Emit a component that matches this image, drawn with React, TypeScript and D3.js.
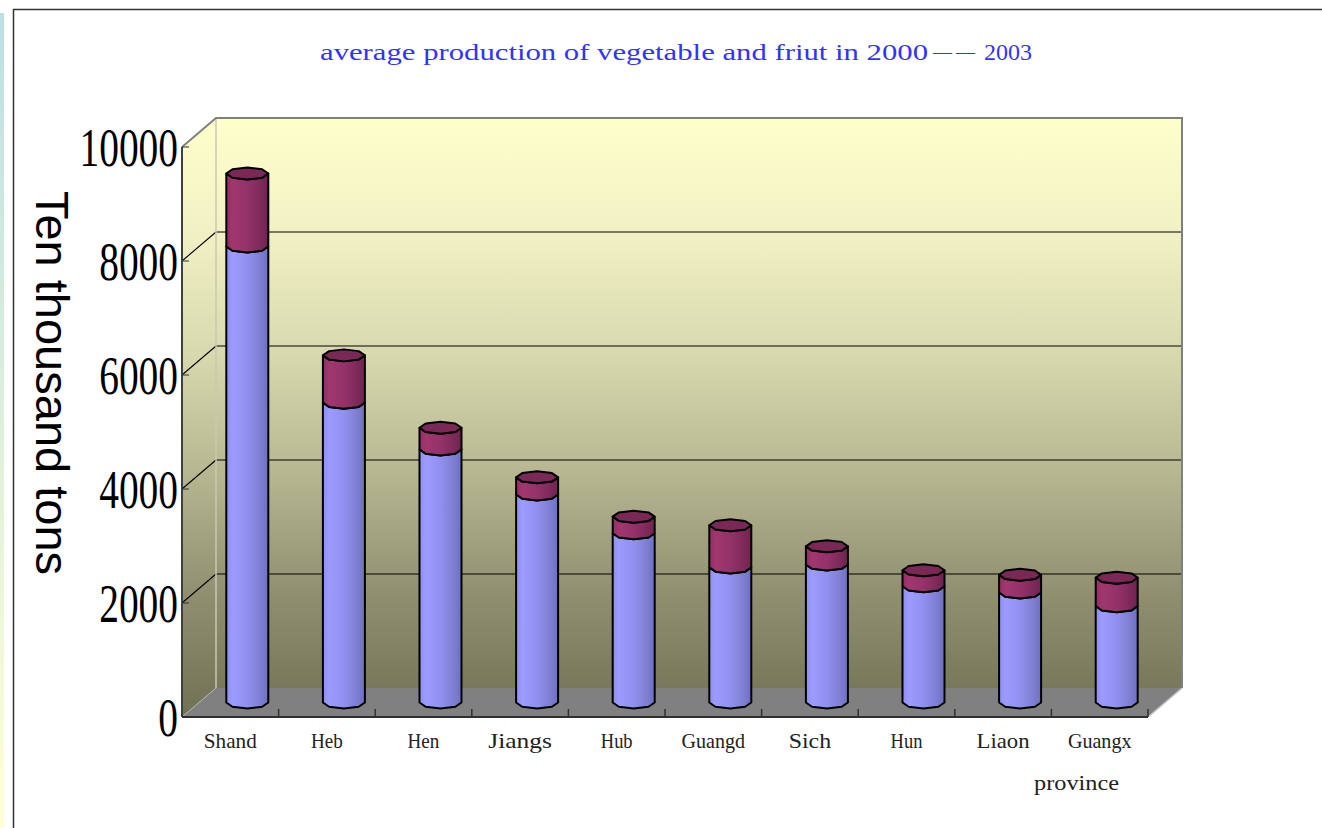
import React from "react";
import * as d3 from "d3";

// values in ten thousand tons
const provinces = ["Shand", "Heb", "Hen", "Jiangs", "Hub", "Guangd", "Sich", "Hun", "Liaon", "Guangx"];
const vegetable = [8000, 5260, 4440, 3650, 2970, 2370, 2420, 2040, 1930, 1690];
const fruit = [1280, 830, 380, 300, 290, 740, 320, 280, 310, 500];
const yTicks = [0, 2000, 4000, 6000, 8000, 10000];

const titleStart = "average production of vegetable and friut in 2000";
const titleDash = "——";
const titleEnd = "2003";

const W = 1322;
const H = 828;
const depthX = 34;
const depthY = -29;
const rx = 21;
const ry = 6;

const frontArc = [180, 135, 90, 45, 0];
const fullRing = [0, 45, 90, 135, 180, 225, 270, 315];

function ring(cx: number, cy: number, angles: number[]) {
  return angles.map((a) => {
    const r = (a * Math.PI) / 180;
    return [cx + rx * Math.cos(r), cy + ry * Math.sin(r)];
  });
}

export default function App() {
  const x = d3.scaleBand().domain(provinces).range([182, 1148]);
  const y = d3.scaleLinear().domain([0, 10000]).range([717, 147]);

  const rows = provinces.map((p, i) => ({ province: p, vegetable: vegetable[i], fruit: fruit[i] }));
  const stacked = d3.stack<any>().keys(["vegetable", "fruit"])(rows);

  const x0 = x.range()[0];
  const x1 = x.range()[1];
  const yBottom = y(0);
  const yTop = y(10000);

  const line = d3.line();

  const segment = (cx: number, yb: number, yt: number) => {
    const bottom = ring(cx, yb, frontArc);
    const top = ring(cx, yt, frontArc).reverse();
    return line([...bottom, ...top] as [number, number][]) + "Z";
  };

  return (
    <svg width={W} height={H} style={{ position: "absolute", left: 0, top: 0 }}>
      <defs>
        <linearGradient id="wall" gradientUnits="userSpaceOnUse" x1="0" y1={yTop + depthY} x2="0" y2={yBottom}>
          <stop offset="0" stopColor="#FFFFCC" />
          <stop offset="0.2" stopColor="#F0F0C4" />
          <stop offset="0.4" stopColor="#D8D8AE" />
          <stop offset="0.6" stopColor="#B5B590" />
          <stop offset="0.8" stopColor="#8F8F70" />
          <stop offset="1" stopColor="#707054" />
        </linearGradient>
        <linearGradient id="strip" x1="0" y1="0" x2="0" y2="1">
          <stop offset="0" stopColor="#BCE0E4" />
          <stop offset="1" stopColor="#FFFFD4" />
        </linearGradient>
        <linearGradient id="blueSide" x1="0" y1="0" x2="1" y2="0">
          <stop offset="0" stopColor="#8E8EF0" />
          <stop offset="0.15" stopColor="#9C9CFF" />
          <stop offset="0.5" stopColor="#9090F0" />
          <stop offset="0.72" stopColor="#8484DA" />
          <stop offset="1" stopColor="#7070C2" />
        </linearGradient>
        <linearGradient id="purpleSide" x1="0" y1="0" x2="1" y2="0">
          <stop offset="0" stopColor="#922C62" />
          <stop offset="0.15" stopColor="#A0386E" />
          <stop offset="0.5" stopColor="#94326A" />
          <stop offset="0.72" stopColor="#852C5E" />
          <stop offset="1" stopColor="#6E2450" />
        </linearGradient>
      </defs>

      {/* page frame */}
      <rect x={0} y={13} width={4} height={H - 13} fill="url(#strip)" />
      <path d={`M13.5,${H} L13.5,9.5 L${W},9.5`} fill="none" stroke="#333" strokeWidth={1.5} />

      <g fontFamily="Liberation Serif" fontSize={24} fill="#3333FF">
        <text x={320} y={60} textLength={608} lengthAdjust="spacingAndGlyphs">{titleStart}</text>
        <text x={933} y={58} fontSize={19} letterSpacing={4}>{titleDash}</text>
        <text x={984} y={60} textLength={48} lengthAdjust="spacingAndGlyphs">{titleEnd}</text>
      </g>

      {/* walls and floor */}
      <rect x={x0 + depthX} y={yTop + depthY} width={x1 - x0} height={yBottom - yTop} fill="url(#wall)" />
      <path
        d={`M${x0},${yTop} L${x0 + depthX},${yTop + depthY} L${x0 + depthX},${yBottom + depthY} L${x0},${yBottom} Z`}
        fill="url(#wall)"
      />
      <path
        d={`M${x0},${yBottom} L${x0 + depthX},${yBottom + depthY} L${x1 + depthX},${yBottom + depthY} L${x1},${yBottom} Z`}
        fill="#808080"
      />

      {yTicks.slice(1, -1).map((t) => (
        <g key={t} stroke="#000" strokeWidth={1.1}>
          <line x1={x0 + depthX} x2={x1 + depthX} y1={y(t) + depthY} y2={y(t) + depthY} />
          <line x1={x0} x2={x0 + depthX} y1={y(t)} y2={y(t) + depthY} />
        </g>
      ))}

      <line x1={x0 + depthX} x2={x0 + depthX} y1={yTop + depthY} y2={yBottom + depthY} stroke="#C8C8B4" strokeWidth={1.5} />
      <path
        d={`M${x0},${yTop} L${x0 + depthX},${yTop + depthY} L${x1 + depthX},${yTop + depthY} L${x1 + depthX},${yBottom + depthY}`}
        fill="none"
        stroke="#808080"
        strokeWidth={2}
      />
      <line x1={x0} y1={yBottom} x2={x0 + depthX} y2={yBottom + depthY} stroke="#B0B0B0" strokeWidth={1} />
      <line x1={x1} y1={yBottom} x2={x1 + depthX} y2={yBottom + depthY} stroke="#C0C0C0" strokeWidth={1.5} />

      {/* axes */}
      <line x1={x0} x2={x0} y1={yTop} y2={yBottom} stroke="#404040" strokeWidth={2} />
      <line x1={x0} x2={x1} y1={yBottom} y2={yBottom} stroke="#303030" strokeWidth={2} />
      {yTicks.map((t) => (
        <g key={t}>
          <line x1={x0} x2={x0 + 7} y1={y(t)} y2={y(t)} stroke="#303030" strokeWidth={1} />
          <text
            transform={`translate(178,${y(t)}) scale(0.73,1)`}
            dy="0.35em"
            textAnchor="end"
            fontFamily="Liberation Serif"
            fontSize={54}
            fill="#000"
          >
            {t}
          </text>
        </g>
      ))}
      {provinces.map((p) => (
        <line
          key={p}
          x1={(x(p) as number) + x.bandwidth()}
          x2={(x(p) as number) + x.bandwidth()}
          y1={yBottom}
          y2={yBottom - 8}
          stroke="#303030"
          strokeWidth={1.5}
        />
      ))}

      {/* bars */}
      {stacked.map((s) => (
        <g key={s.key}>
          {s.map((d, i) => {
            const cx = (x(provinces[i]) as number) + x.bandwidth() / 2 + depthX / 2;
            const yb = y(d[0]) + depthY / 2;
            const yt = y(d[1]) + depthY / 2;
            const isTop = s.key === "fruit";
            return (
              <g key={i} stroke="#000" strokeWidth={2} strokeLinejoin="round">
                <path d={segment(cx, yb, yt)} fill={isTop ? "url(#purpleSide)" : "url(#blueSide)"} />
                {isTop && <path d={line(ring(cx, yt, fullRing) as [number, number][]) + "Z"} fill="#7A2856" />}
              </g>
            );
          })}
        </g>
      ))}

      {provinces.map((p) => (
        <text
          key={p}
          x={(x(p) as number) + x.bandwidth() / 2}
          y={748}
          textAnchor="middle"
          fontFamily="Liberation Serif"
          fontSize={21}
          fill="#222"
          textLength={p.length * 10.6}
          lengthAdjust="spacingAndGlyphs"
        >
          {p}
        </text>
      ))}
      <text x={1034} y={790} fontFamily="Liberation Serif" fontSize={21} fill="#222" textLength={85} lengthAdjust="spacingAndGlyphs">
        province
      </text>

      <text
        transform="translate(36,383) rotate(90)"
        textAnchor="middle"
        fontFamily="Liberation Sans"
        fontSize={47}
        fill="#000"
      >
        Ten thousand tons
      </text>
    </svg>
  );
}
